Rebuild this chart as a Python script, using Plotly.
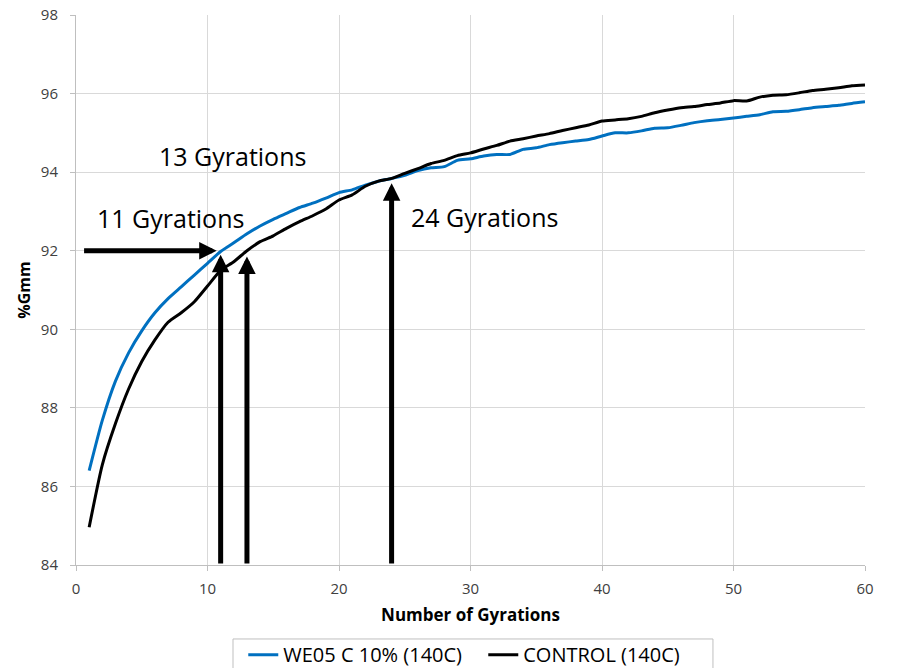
import plotly.graph_objects as go

# Gyratory compaction curves: %Gmm versus number of gyrations
gyrations = list(range(1, 61))

we05_c10 = [
    86.40, 87.68, 88.68, 89.40, 89.96, 90.42, 90.78, 91.08, 91.38, 91.68,
    91.98, 92.20, 92.43, 92.63, 92.80, 92.95, 93.10, 93.21, 93.34, 93.48,
    93.55, 93.67, 93.77, 93.84, 93.92, 94.04, 94.11, 94.14, 94.30, 94.34,
    94.41, 94.45, 94.45, 94.58, 94.62, 94.70, 94.75, 94.79, 94.83, 94.92,
    95.00, 95.00, 95.05, 95.12, 95.13, 95.19, 95.26, 95.31, 95.34, 95.38,
    95.42, 95.46, 95.54, 95.55, 95.59, 95.64, 95.67, 95.70, 95.75, 95.79,
]

control = [
    84.96, 86.55, 87.60, 88.48, 89.18, 89.73, 90.18, 90.42, 90.70, 91.10,
    91.50, 91.72, 92.00, 92.23, 92.38, 92.57, 92.74, 92.89, 93.06, 93.29,
    93.42, 93.64, 93.77, 93.84, 93.97, 94.09, 94.22, 94.30, 94.42, 94.49,
    94.59, 94.68, 94.79, 94.85, 94.92, 94.98, 95.06, 95.13, 95.20, 95.30,
    95.33, 95.36, 95.42, 95.51, 95.58, 95.64, 95.67, 95.72, 95.76, 95.82,
    95.81, 95.91, 95.96, 95.97, 96.02, 96.08, 96.11, 96.15, 96.20, 96.22,
]

series_names = ["WE05 C 10% (140C)", "CONTROL (140C)"]

# Gyration counts marked with arrows and the %Gmm level each arrow reaches
marked_gyrations = [11, 13, 24]
marked_levels = [91.9, 91.85, 93.72]
target_gmm = 92
marked_labels = ["11 Gyrations", "13 Gyrations", "24 Gyrations"]

FONT = "Open Sans"

fig = go.Figure()
fig.add_trace(go.Scatter(
    x=gyrations, y=we05_c10, mode="lines", name=series_names[0],
    line=dict(color="#0070C0", width=3, shape="spline", smoothing=0.6),
))
fig.add_trace(go.Scatter(
    x=gyrations, y=control, mode="lines", name=series_names[1],
    line=dict(color="#000000", width=3, shape="spline", smoothing=0.6),
))

annotations = []
# horizontal arrow at the target density
annotations.append(dict(
    x=10.7, y=target_gmm, ax=0.5, ay=target_gmm,
    xref="x", yref="y", axref="x", ayref="y",
    text="", showarrow=True, arrowhead=2, arrowsize=0.7,
    arrowwidth=5, arrowcolor="#000000", standoff=0, startstandoff=0,
))
# vertical arrows rising from the x-axis
for gx, lvl in zip(marked_gyrations, marked_levels):
    annotations.append(dict(
        x=gx, y=lvl, ax=gx, ay=84,
        xref="x", yref="y", axref="x", ayref="y",
        text="", showarrow=True, arrowhead=2, arrowsize=0.7,
        arrowwidth=5, arrowcolor="#000000", standoff=0, startstandoff=0,
    ))

label_pos = [(7.15, 92.84), (11.9, 94.42), (31.1, 92.86)]
for txt, (lx, ly) in zip(marked_labels, label_pos):
    annotations.append(dict(
        x=lx, y=ly, xref="x", yref="y", text=txt, showarrow=False,
        font=dict(family=FONT, size=25, color="#000000"),
        xanchor="center", yanchor="middle",
    ))

# frame around the legend, running off the bottom edge of the page
legend_frame = dict(
    type="rect", xref="paper", yref="paper",
    x0=0.199, x1=0.8073, y0=-0.1345, y1=-0.22,
    line=dict(color="#bfbfbf", width=1), fillcolor="rgba(0,0,0,0)",
    layer="above",
)

fig.update_layout(
    width=919, height=668,
    margin=dict(l=76, r=54, t=15, b=103, autoexpand=False),
    paper_bgcolor="#ffffff", plot_bgcolor="#ffffff",
    font=dict(family=FONT, color="#404040"),
    annotations=annotations,
    shapes=[legend_frame],
    legend=dict(
        orientation="h", x=0.212, xanchor="left", y=-0.1275, yanchor="top",
        font=dict(family=FONT, size=20, color="#000000"),
        borderwidth=0, bgcolor="rgba(0,0,0,0)",
        itemwidth=30, entrywidth=195, entrywidthmode="pixels",
    ),
    showlegend=True,
)

fig.update_xaxes(
    range=[0, 60], dtick=10, tick0=0,
    showgrid=True, gridcolor="#d9d9d9", gridwidth=1,
    showline=True, linecolor="#bfbfbf", linewidth=1,
    ticks="outside", ticklen=5, tickcolor="#bfbfbf",
    tickfont=dict(family=FONT, size=15, color="#404040"),
    ticklabelstandoff=5,
    zeroline=False,
    title=dict(text="<b>Number of Gyrations</b>",
               font=dict(family=FONT, size=17, color="#000000"), standoff=12),
)
fig.update_yaxes(
    range=[84, 98], dtick=2, tick0=84,
    showgrid=True, gridcolor="#d9d9d9", gridwidth=1,
    showline=True, linecolor="#bfbfbf", linewidth=1,
    ticks="outside", ticklen=5, tickcolor="#bfbfbf",
    tickfont=dict(family=FONT, size=15, color="#404040"),
    ticklabelstandoff=9,
    zeroline=False,
    title=dict(text="<b>%Gmm</b>",
               font=dict(family=FONT, size=16, color="#000000"), standoff=6),
)

fig.write_html("out.html")
